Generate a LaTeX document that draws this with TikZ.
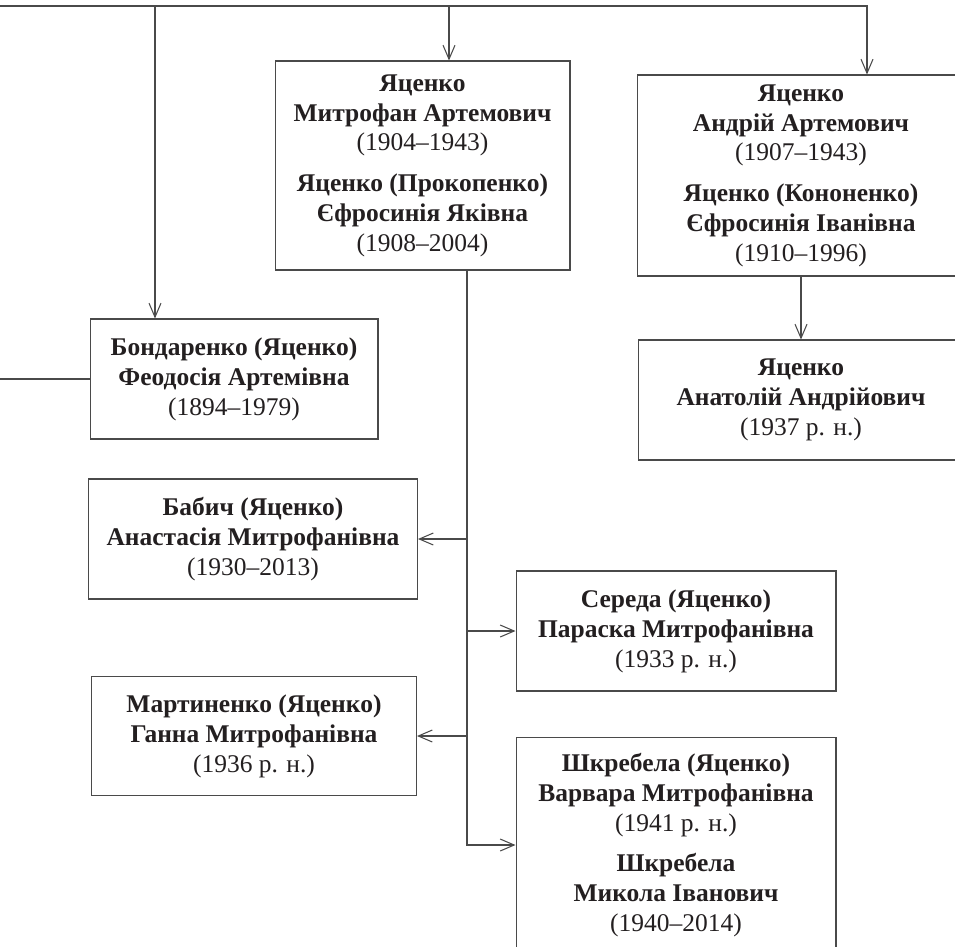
\documentclass[tikz,border=0pt]{standalone}
\usepackage{fontspec}
\setmainfont{Liberation Serif}
\usetikzlibrary{arrows.meta,positioning}
\definecolor{ink}{HTML}{231F20}
\definecolor{linegray}{HTML}{4A4A4A}
\tikzset{
  personbox/.style={draw=linegray,fill=white,line width=0.6pt,
                    align=center,text=ink,inner sep=0pt,
                    font=\fontsize{14.5}{17}\selectfont},
  linkline/.style={draw=linegray,line width=0.6pt},
  linkarr/.style={-{Straight Barb[length=2.8mm,width=2.4mm]},draw=linegray,line width=0.6pt}
}
\begin{document}
\begin{tikzpicture}[x=0.02cm,y=-0.02cm]
  \useasboundingbox (0,0) rectangle (955,946);
  \clip (0,0) rectangle (955,946);

  \node[personbox,minimum width=5.9cm,minimum height=4.18cm] (mytr) at (422.5,165.5)
    {\textbf{Яценко}\\\textbf{Митрофан Артемович}\\(1904–1943)\\[6pt]
     \textbf{Яценко (Прокопенко)}\\\textbf{Єфросинія Яківна}\\(1908–2004)};
  \node[personbox,minimum width=6.56cm,minimum height=4.02cm] (andr) at (801,175.5)
    {\textbf{Яценко}\\\textbf{Андрій Артемович}\\(1907–1943)\\[6pt]
     \textbf{Яценко (Кононенко)}\\\textbf{Єфросинія Іванівна}\\(1910–1996)};
  \node[personbox,minimum width=6.52cm,minimum height=2.4cm] (anat) at (801,400)
    {\textbf{Яценко}\\\textbf{Анатолій Андрійович}\\(1937 р. н.)};
  \node[personbox,minimum width=5.76cm,minimum height=2.4cm] (bond) at (234,379)
    {\textbf{Бондаренко (Яценко)}\\\textbf{Феодосія Артемівна}\\(1894–1979)};
  \node[personbox,minimum width=6.58cm,minimum height=2.4cm] (bab) at (253,539)
    {\textbf{Бабич (Яценко)}\\\textbf{Анастасія Митрофанівна}\\(1930–2013)};
  \node[personbox,minimum width=6.4cm,minimum height=2.4cm] (sered) at (676,631)
    {\textbf{Середа (Яценко)}\\\textbf{Параска Митрофанівна}\\(1933 р. н.)};
  \node[personbox,minimum width=6.5cm,minimum height=2.38cm] (mart) at (254,736)
    {\textbf{Мартиненко (Яценко)}\\\textbf{Ганна Митрофанівна}\\(1936 р. н.)};
  \node[personbox,minimum width=6.4cm,minimum height=4.32cm] (shkr) at (676,845)
    {\textbf{Шкребела (Яценко)}\\\textbf{Варвара Митрофанівна}\\(1941 р. н.)\\[6pt]
     \textbf{Шкребела}\\\textbf{Микола Іванович}\\(1940–2014)};

  % top line and drops
  \coordinate (topL) at (-30,6);
  \coordinate (topR) at (867,6);
  \coordinate (dropB) at (155,6);
  \coordinate (dropM) at (449,6);
  \draw[linkarr] (topL) -- (topR) -- (topR |- andr.north);
  \draw[linkarr] (dropB) -- (dropB |- bond.north);
  \draw[linkarr] (dropM) -- (dropM |- mytr.north);
  \draw[linkarr] (andr) -- (anat);

  \coordinate (sideL) at (-30,381);
  \draw[linkline] (bond.west) -- (bond.west -| sideL);

  % children of Mytrofan
  \coordinate (trunk) at (467,0);
  \draw[linkarr] (trunk |- mytr.south) |- (shkr.west);
  \draw[linkarr] (trunk |- bab.east) -- (bab.east);
  \draw[linkarr] (trunk |- sered.west) -- (sered.west);
  \draw[linkarr] (trunk |- mart.east) -- (mart.east);
\end{tikzpicture}
\end{document}
